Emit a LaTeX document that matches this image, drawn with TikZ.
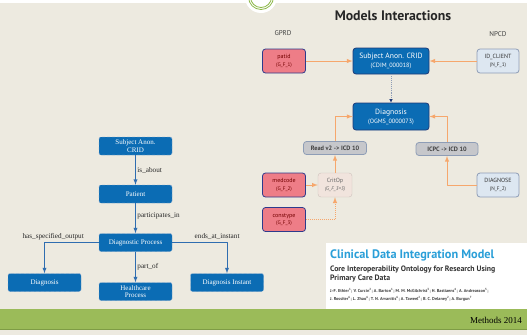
\documentclass[tikz,border=0pt]{standalone}
\usepackage{fontspec}
\setmainfont{Liberation Serif}
\newfontfamily\ptsans{PT Sans}
\usetikzlibrary{positioning,arrows.meta}

\definecolor{slide}{HTML}{EDEAE0}
\definecolor{band}{HTML}{9BBB59}
\definecolor{bandline}{HTML}{7E9C45}
\definecolor{ring}{HTML}{8DB848}
\definecolor{cdim}{HTML}{0B6CB4}
\definecolor{cdimline}{HTML}{1E3A78}
\definecolor{ontoline}{HTML}{2F6DB0}
\definecolor{gprdfill}{HTML}{EE7D87}
\definecolor{gprdline}{HTML}{2D3A8C}
\definecolor{npcdfill}{HTML}{DDE7F1}
\definecolor{npcdline}{HTML}{8E9DB6}
\definecolor{convfill}{HTML}{C6C7CB}
\definecolor{critfill}{HTML}{F1E4DD}
\definecolor{mapline}{HTML}{F6A76C}
\definecolor{cdimtitle}{HTML}{2A9FD8}

\newcommand{\fieldcode}[1]{{\fontsize{5.2}{6}\selectfont(#1)}}

\tikzset{
  onto/.style={draw=ontoline!60,densely dashed,fill=cdim,rounded corners=2pt,
    minimum width=73pt,minimum height=18pt,inner sep=1pt,text=white,align=center,
    font=\fontsize{7}{7.6}\selectfont},
  rel/.style={draw=ontoline,line width=0.9pt,->},
  rellabel/.style={font=\fontsize{7.2}{8}\selectfont,text=black!85,inner sep=1.5pt},
  model/.style={rounded corners=3pt,line width=0.8pt,inner sep=1pt,align=center,
    font=\ptsans\fontsize{6}{7.5}\selectfont},
  gprd/.style={model,draw=gprdline,fill=gprdfill,text=red!45!black,
    minimum width=43pt,minimum height=24pt},
  npcd/.style={model,draw=npcdline,fill=npcdfill,text=black!80,
    minimum width=42pt,minimum height=24pt},
  cdimbox/.style={model,draw=cdimline,fill=cdim,text=white,
    minimum width=76pt,minimum height=26pt,font=\ptsans\fontsize{7.6}{9}\selectfont},
  convbox/.style={model,draw=npcdline,fill=convfill,text=black!75,
    minimum width=63pt,minimum height=13pt,font=\ptsans\bfseries\fontsize{6.3}{7}\selectfont},
  critbox/.style={model,draw=critfill!85!black,line width=0.4pt,fill=critfill,text=black!60,
    minimum width=34pt,minimum height=24pt},
  map/.style={draw=mapline,line width=1pt,->},
  header/.style={font=\ptsans\fontsize{7}{8}\selectfont,text=black!75}
}

\begin{document}
\begin{tikzpicture}[x=1pt,y=-1pt,>=latex,line join=round]
\useasboundingbox (0,0) rectangle (527,335);
% slide background, top strip and bottom band
\fill[slide] (0,0) rectangle (527,335);
\fill[white] (0,0) rectangle (527,3);
\fill[band] (0,309) rectangle (527,329);
\draw[bandline,line width=0.8pt] (0,329) -- (527,329);
\fill[white] (261,-3) circle (16);
\draw[ring,line width=0.8pt] (261,-3) circle (12.5);
\draw[ring,line width=0.8pt] (261,-3) circle (10.5);

% ontology graph
\node[onto] (lCrid) at (135.5,146) {Subject Anon.\\CRID};
\node[onto] (patient) at (135.5,194) {Patient};
\node[onto] (diagProc) at (135.5,242.5) {Diagnostic Process};
\node[onto] (lDiag) at (44.5,282.5) {Diagnosis};
\node[onto] (careProc) at (135.5,291.5) {Healthcare\\Process};
\node[onto] (diagInst) at (227,282.5) {Diagnosis Instant};

\draw[rel] (lCrid) -- node[rellabel,right] {is\_about} (patient);
\draw[rel] (patient) -- node[rellabel,right,yshift=2pt] {participates\_in} (diagProc);
\draw[rel] (diagProc) -- node[rellabel,right] {part\_of} (careProc);
\draw[rel] (diagProc.west) -| node[rellabel,above,pos=0.42,yshift=1pt] {has\_specified\_output} (lDiag.north);
\draw[rel] (diagProc.east) -| node[rellabel,above,pos=0.41,yshift=1pt] {ends\_at\_instant} (diagInst.north);

% models interactions
\node[font=\ptsans\bfseries\fontsize{13.8}{15}\selectfont,text=black!85] (modelsTitle) at (393,16) {Models Interactions};
\node[header] (gprdHead) at (283,33) {GPRD};
\node[header] (npcdHead) at (498,34) {NPCD};

\node[gprd] (patid) at (284,61) {patid\\\fieldcode{G\_F\_1}};
\node[cdimbox] (rCrid) at (391,61) {Subject Anon. CRID\\{\fontsize{6.2}{7}\selectfont(CDIM\_000018)}};
\node[npcd] (idClient) at (498,61) {ID\_CLIENT\\\fieldcode{N\_F\_1}};
\node[cdimbox,minimum height=27pt] (rDiag) at (391,116.5) {Diagnosis\\{\fontsize{6.2}{7}\selectfont(OGMS\_0000073)}};
\node[convbox] (readConv) at (335,148) {Read v2 -> ICD 10};
\node[convbox,minimum width=62pt] (icpcConv) at (447,149) {ICPC -> ICD 10};
\node[gprd] (medcode) at (284,185) {medcode\\\fieldcode{G\_F\_2}};
\node[critbox] (critOp) at (335,185) {CritOp\\{\itshape\fieldcode{G\_F\_3=3}}};
\node[gprd] (constype) at (284,219.5) {constype\\\fieldcode{G\_F\_3}};
\node[npcd] (diagnose) at (498,185) {DIAGNOSE\\\fieldcode{N\_F\_2}};

\draw[map] (patid) -- (rCrid);
\draw[map] (idClient) -- (rCrid);
\draw[draw=npcdline,line width=0.9pt,densely dotted,-{Latex[length=3.5pt,width=3.5pt,fill=cdimline,color=cdimline]}] (rCrid) -- (rDiag);
\draw[map] (readConv.north) |- (rDiag.west);
\draw[map] (icpcConv.north) |- (rDiag.east);
\draw[map] (medcode) -- (critOp);
\draw[map] (critOp) -- (readConv);
\draw[map,densely dotted] (constype.east) -| (critOp.south);
\draw[map] (diagnose.west) -| (icpcConv.south);

% paper reference
\fill[white] (326,243) rectangle (527,309);
\node[anchor=west,inner sep=0pt,font=\ptsans\bfseries\fontsize{12.3}{14}\selectfont,text=cdimtitle] (paperTitle) at (330,255) {Clinical Data Integration Model};
\node[anchor=north west,inner sep=0pt,align=left,font=\ptsans\bfseries\fontsize{7.8}{9}\selectfont,text=black!80] (paperSub) at (330,266) {Core Interoperability Ontology for Research Using\\Primary Care Data};
\node[anchor=north west,inner sep=0pt,align=left,font=\ptsans\bfseries\fontsize{4.3}{7.8}\selectfont,text=black!75] (paperAuth) at (330,288)
  {J.-F. Ethier\textsuperscript{1}; V. Curcin\textsuperscript{2}; A. Barton\textsuperscript{1}; M. M. McGilchrist\textsuperscript{3}; H. Bastiaens\textsuperscript{4}; A. Andreasson\textsuperscript{5};\\
   J. Rossiter\textsuperscript{6}; L. Zhao\textsuperscript{6}; T. N. Arvanitis\textsuperscript{6}; A. Taweel\textsuperscript{2}; B. C. Delaney\textsuperscript{2}; A. Burgun\textsuperscript{7}};
\node[anchor=east,inner sep=0pt,font=\fontsize{9}{10}\selectfont] (journal) at (522,320) {Methods \oldstylenums{2014}};
\end{tikzpicture}
\end{document}
